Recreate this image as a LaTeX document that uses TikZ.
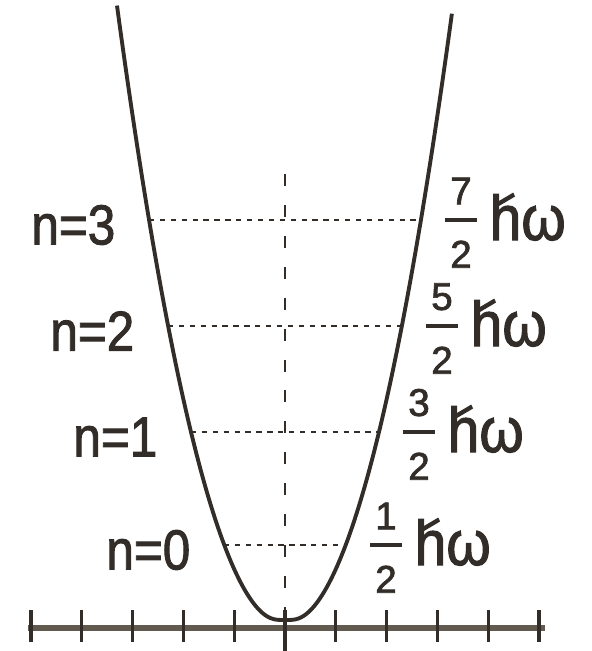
\documentclass[tikz,border=0pt]{standalone}
\usepackage{fontspec}
\setmainfont{Liberation Sans}
\newfontfamily\lblfont{Liberation Sans}[FakeBold=1.8]
\usetikzlibrary{positioning,calc}
\definecolor{curvecol}{RGB}{50,45,40}
\definecolor{axiscol}{RGB}{98,90,78}
\newcommand{\hbarsign}{\mbox{\rlap{\kern.06em\raisebox{.5em}{\rotatebox{28}{\rule{.4em}{.07em}}}}h}}
\begin{document}
\begin{tikzpicture}[x=.1mm,y=.1mm,
  curve/.style={line width=1.1pt,curvecol,line join=round},
  level/.style={line width=.8pt,curvecol,dash pattern=on 1.5pt off 1.6pt},
  vline/.style={line width=.7pt,curvecol,dash pattern=on 3.4pt off 5.4pt},
  tick/.style={line width=.9pt,curvecol},
  fbar/.style={line width=1.3pt,curvecol},
  nlabel/.style={inner sep=0pt,anchor=east,font=\lblfont\fontsize{16}{18}\selectfont,text=curvecol},
  fnum/.style={inner sep=0pt,font=\lblfont\fontsize{11}{13}\selectfont,text=curvecol},
  hlabel/.style={inner sep=0pt,anchor=base west,font=\lblfont\fontsize{18}{20}\selectfont,text=curvecol}]
\useasboundingbox (-285,-31) rectangle (307,620);
\draw[axiscol,line width=1.5pt](-257,-8)--(260,-8);
\foreach \i in {-5,...,5} \draw[tick](\i*50.8,10)--(\i*50.8,-22);
\draw[tick](0,10)--(0,-31);
\draw[vline](0,446)--(0,-8);
\draw[curve] plot[domain=-1.68:1.67,samples=121,smooth]({100*\x},{220*\x*\x*\x*\x/(\x*\x+0.03)});
\foreach \n/\y/\h/\k in {0/75/61/1,1/188/94/3,2/294/117/5,3/400/136/7}{
  \coordinate (L\n) at (-\h,\y);
  \coordinate (R\n) at (\h,\y);
  \draw[level](L\n)--(R\n);
  \node[nlabel] (n\n) at (-\h-33,\y-5) {\scalebox{.88}[1]{n=\n}};
  \coordinate (m\n) at (\h+40,\y);
  \draw[fbar]($(m\n)+(-16,0)$)--($(m\n)+(16,0)$);
  \node[fnum,above=1.5mm of m\n] (t\n) {\k};
  \node[fnum,below=2mm of m\n] (d\n) {2};
  \node[hlabel] (h\n) at (\h+68,\y-20) {\scalebox{.9}[1]{\hbarsign ω}};
}
\end{tikzpicture}
\end{document}
